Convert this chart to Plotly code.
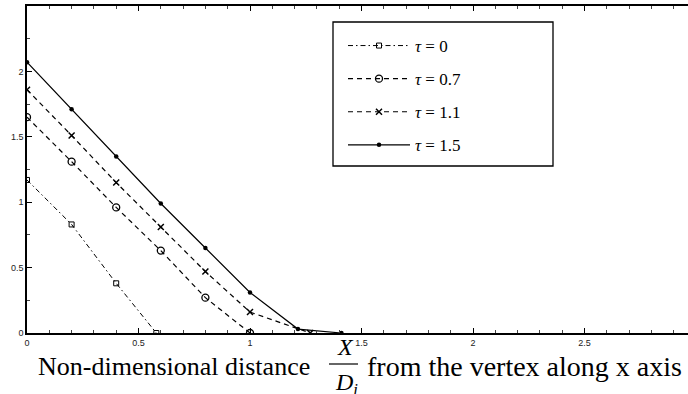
import plotly.graph_objects as go

# ---- data ----
x_tau0 = [0.0, 0.2, 0.4, 0.58]
y_tau0 = [1.17, 0.83, 0.38, 0.0]

x_tau07 = [0.0, 0.2, 0.4, 0.6, 0.8, 1.0]
y_tau07 = [1.65, 1.31, 0.96, 0.63, 0.27, 0.0]

x_tau11 = [0.0, 0.2, 0.4, 0.6, 0.8, 1.0, 1.27]
y_tau11 = [1.86, 1.51, 1.15, 0.81, 0.47, 0.16, 0.0]

x_tau15 = [0.0, 0.2, 0.4, 0.6, 0.8, 1.0, 1.215, 1.41]
y_tau15 = [2.07, 1.71, 1.35, 0.99, 0.65, 0.31, 0.03, 0.0]

series_names = ["<i>τ</i> = 0", "<i>τ</i> = 0.7", "<i>τ</i> = 1.1", "<i>τ</i> = 1.5"]

x_tickvals = [0, 0.5, 1, 1.5, 2, 2.5]
x_ticktext = ["0", "0.5", "1", "1.5", "2", "2.5"]
y_tickvals = [0, 0.5, 1, 1.5, 2]
y_ticktext = ["0", "0.5", "1", "1.5", "2"]

W, H = 688, 394
ML, MR, MT, MB = 27, 0, 6, 61
PW, PH = W - ML - MR, H - MT - MB

def px_x(px):
    return (px - ML) / PW

def px_y(py):
    return (H - MB - py) / PH

fig = go.Figure()
fig.add_trace(go.Scatter(x=x_tau0, y=y_tau0, name=series_names[0], mode="lines+markers",
                         line=dict(color="black", width=1, dash="5px,3px,1.5px,3px"),
                         marker=dict(symbol="square-open", size=5, color="black", line=dict(width=1)),
                         legendgroup="a"))
fig.add_trace(go.Scatter(x=x_tau07, y=y_tau07, name=series_names[1], mode="lines+markers",
                         line=dict(color="black", width=1.2, dash="5px,4px"),
                         marker=dict(symbol="circle-open", size=7, color="black", line=dict(width=1.3)),
                         legendgroup="b"))
fig.add_trace(go.Scatter(x=x_tau11, y=y_tau11, name=series_names[2], mode="lines+markers",
                         line=dict(color="black", width=1.2, dash="5px,4px"),
                         marker=dict(symbol="x-thin-open", size=6, color="black", line=dict(width=1.5)),
                         legendgroup="c"))
fig.add_trace(go.Scatter(x=x_tau15, y=y_tau15, name=series_names[3], mode="lines+markers",
                         line=dict(color="black", width=1.2),
                         marker=dict(symbol="circle", size=4.5, color="black"),
                         legendgroup="d"))

axis_common = dict(showgrid=False, zeroline=False, linecolor="black", linewidth=1.6,
                   ticks="inside", ticklen=5, tickwidth=1.2, tickcolor="black", automargin=False,
                   tickfont=dict(family="Liberation Sans, Arial, sans-serif", size=9, color="#222"))

fig.update_layout(
    width=W, height=H,
    margin=dict(l=ML, r=MR, t=MT, b=MB, pad=0, autoexpand=False),
    plot_bgcolor="white", paper_bgcolor="white",
    xaxis=dict(range=[0, (W - ML) / 223.0], tickvals=x_tickvals, ticktext=x_ticktext,
               mirror="ticks", showline=True,
               minor=dict(dtick=0.1, tick0=0, ticks="inside", ticklen=3, tickcolor="#444", tickwidth=1),
               **axis_common),
    yaxis=dict(range=[0, 2.5], tickvals=y_tickvals, ticktext=y_ticktext, showline=True,
               mirror=False,
               minor=dict(dtick=0.25, tick0=0, ticks="inside", ticklen=3, tickcolor="#444", tickwidth=1),
               **axis_common),
    showlegend=True,
    legend=dict(x=px_x(343), y=px_y(28), xanchor="left", yanchor="top",
                bgcolor="rgba(0,0,0,0)", borderwidth=0,
                font=dict(family="Liberation Serif, Times New Roman, serif", size=17, color="black"),
                itemwidth=62, tracegroupgap=8, traceorder="grouped"),
)

# legend frame
fig.add_shape(type="rect", xref="paper", yref="paper",
              x0=px_x(333), x1=px_x(553), y0=px_y(166), y1=px_y(22),
              line=dict(color="black", width=1.3), fillcolor="rgba(0,0,0,0)", layer="above")

# x-axis title: text + fraction X / D_i + text
left_font = dict(family="Liberation Serif, Times New Roman, serif", size=26, color="black")
right_font = dict(family="Liberation Serif, Times New Roman, serif", size=28, color="black")
frac_font = dict(family="Liberation Serif, Times New Roman, serif", size=24, color="black")
ty = px_y(366)
fig.add_annotation(text="Non-dimensional distance", xref="paper", yref="paper",
                   x=px_x(312), y=ty, xanchor="right", yanchor="middle", showarrow=False, font=left_font)
fig.add_annotation(text="<i>X</i>", xref="paper", yref="paper",
                   x=px_x(345), y=px_y(347), xanchor="center", yanchor="middle", showarrow=False, font=frac_font)
fig.add_annotation(text="<i>D<sub>i</sub></i>", xref="paper", yref="paper",
                   x=px_x(346), y=px_y(384), xanchor="center", yanchor="middle", showarrow=False, font=frac_font)
fig.add_shape(type="line", xref="paper", yref="paper",
              x0=px_x(329), x1=px_x(358), y0=px_y(364), y1=px_y(364),
              line=dict(color="black", width=1.2))
fig.add_annotation(text="from the vertex along x axis", xref="paper", yref="paper",
                   x=px_x(365), y=ty, xanchor="left", yanchor="middle", showarrow=False, font=right_font)

fig.write_html("out.html", post_script="document.body.style.margin='0';",
               config={"displayModeBar": False})
